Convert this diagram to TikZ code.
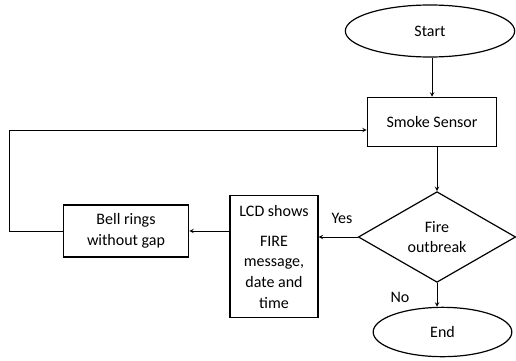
\documentclass[tikz,border=0pt]{standalone}
\usepackage{fontspec}
\setmainfont{Carlito}
\usetikzlibrary{shapes.geometric}

\begin{document}
\begin{tikzpicture}[x=0.75pt, y=-0.75pt,
	font=\fontsize{12}{15}\selectfont,
	term/.style={ellipse, draw, line width=0.9pt, inner sep=0},
	procbox/.style={rectangle, draw, line width=0.9pt, align=center, inner sep=0},
	conn/.style={->, >=stealth, line width=0.5pt}]
	\useasboundingbox (0,0) rectangle (516,360);

	\node[term, minimum width=127pt, minimum height=39pt](start) at (430,31) {Start};
	\node[procbox, minimum width=97pt, minimum height=37pt](smoke) at (432,122) {Smoke Sensor};
	\node[diamond, draw, line width=0.9pt, aspect=1.72, inner sep=0, minimum width=118pt, minimum height=68pt, align=center](fire) at (437,237) {Fire\\outbreak};
	\node[term, minimum width=104pt, minimum height=37pt](end) at (442.5,332) {End};
	\node[procbox, minimum width=66pt, minimum height=91pt, font=\fontsize{12}{15.5}\selectfont](lcd) at (274,256.5) {LCD shows\\[7pt]FIRE\\message,\\date and\\time};
	\node[procbox, minimum width=94pt, minimum height=39pt, font=\fontsize{12}{16}\selectfont](bell) at (126,231) {Bell rings\\without gap};
	\coordinate(loop) at (9,130);

	\node(yes) at (342,218) {Yes};
	\node(no) at (400,297) {No};

	\draw[conn](start.south -| smoke.north) -- (smoke.north);
	\draw[conn](smoke.south -| fire.north) -- (fire.north);
	\draw[conn](fire.south) -- (fire.south |- end.north);
	\draw[conn](fire.west) -- (fire.west -| lcd.east);
	\draw[conn](bell.east -| lcd.west) -- (bell.east);
	\draw[conn](bell.west) -| (loop) -- (loop -| smoke.west);
\end{tikzpicture}
\end{document}
